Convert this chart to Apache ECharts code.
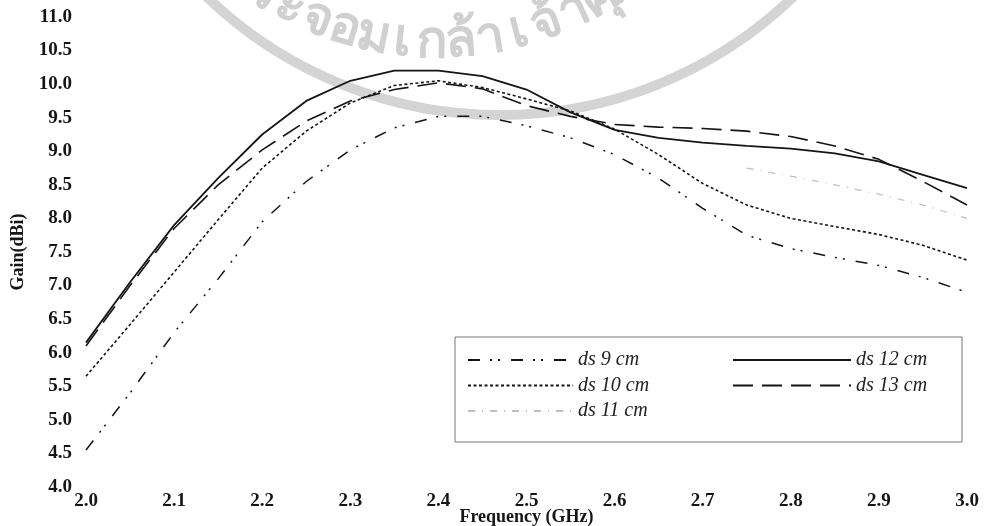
<!DOCTYPE html>
<html>
<head>
<meta charset="utf-8">
<script src="https://cdn.jsdelivr.net/npm/echarts@6/dist/echarts.min.js"></script>
<style>html,body{margin:0;padding:0;background:#fff}#c{width:995px;height:526px}</style>
</head>
<body>
<div id="c"></div>
<script>
// ---- data ----
var freq = [2.0, 2.05, 2.1, 2.15, 2.2, 2.25, 2.3, 2.35, 2.4, 2.45, 2.5, 2.55, 2.6, 2.65, 2.7, 2.75, 2.8, 2.85, 2.9, 2.95, 3.0];
var ds9  = [4.55, 5.40, 6.30, 7.10, 7.95, 8.55, 9.02, 9.35, 9.52, 9.52, 9.38, 9.20, 8.95, 8.60, 8.15, 7.75, 7.55, 7.42, 7.30, 7.12, 6.90];
var ds10 = [5.65, 6.42, 7.20, 7.98, 8.75, 9.30, 9.72, 9.98, 10.05, 9.95, 9.78, 9.60, 9.33, 8.95, 8.52, 8.20, 8.00, 7.88, 7.76, 7.60, 7.38];
var ds11 = [null, null, null, null, null, null, null, null, null, null, null, null, null, null, null, 8.75, 8.63, 8.50, 8.36, 8.20, 8.00];
var ds12 = [6.15, 7.05, 7.90, 8.60, 9.25, 9.75, 10.05, 10.20, 10.20, 10.12, 9.92, 9.58, 9.32, 9.20, 9.13, 9.08, 9.04, 8.97, 8.85, 8.65, 8.45];
var ds13 = [6.10, 7.00, 7.85, 8.50, 9.02, 9.45, 9.75, 9.92, 10.02, 9.93, 9.68, 9.52, 9.40, 9.36, 9.34, 9.30, 9.22, 9.08, 8.88, 8.55, 8.20];
var watermarkText = ['พ','ร','ะ','จ','อ','ม','เ','ก','ล้','า','เ','จ้','า','คุ','ณ','ท','ห','า','ร'];

function pairs(ys){ return freq.map(function(x,i){ return [x, ys[i]]; }); }

var serif = '"Liberation Serif", "Times New Roman", serif';
var ink = '#151515';

var g = [];
g.push({type:'circle', shape:{cx:500, cy:-308, r:423}, style:{fill:'none', stroke:'#d4d4d4', lineWidth:10}, z:0, silent:true});
var tcx = 437, tcy = -282, tr = 350, step = 0.0905, th0 = -0.56 - step;
watermarkText.forEach(function(ch, i){
  var th = th0 + i*step;
  g.push({type:'text', x: tcx + tr*Math.sin(th), y: tcy + tr*Math.cos(th), rotation: th, z:0, silent:true,
    style:{text: ch, fontSize: 52, fontWeight:'bold', fill:'#d0d0d0', align:'center', verticalAlign:'bottom', fontFamily:'"Noto Sans", "DejaVu Sans", sans-serif'}});
});
g.push({type:'rect', shape:{x:455, y:337, width:507, height:105}, style:{fill:'none', stroke:'#777', lineWidth:1}, z:1, silent:true});

var chart = echarts.init(document.getElementById('c'));
var lineCommon = {type:'line', symbol:'none', smooth:false, connectNulls:false};
var legText = {fontFamily:serif, fontStyle:'italic', fontSize:20, color:'#222'};
chart.setOption({
  animation:false,
  backgroundColor:'#fff',
  graphic: g,
  grid:{left:86, right:28, top:17, bottom:39, outerBoundsMode:'none', containLabel:false},
  legend:[
    {data:['ds 9 cm','ds 10 cm','ds 11 cm'], orient:'vertical', left:462, top:345, itemWidth:105, itemHeight:12, itemGap:5.5, itemStyle:{opacity:0}, textStyle:legText},
    {data:['ds 12 cm','ds 13 cm'], orient:'vertical', left:727, top:345, itemWidth:118, itemHeight:12, itemGap:5.5, itemStyle:{opacity:0}, textStyle:legText}
  ],
  xAxis:{type:'value', min:2.0, max:3.0, interval:0.1,
    name:'Frequency (GHz)', nameLocation:'middle', nameGap:21, nameMoveOverlap:false,
    nameTextStyle:{fontFamily:serif, fontWeight:'bold', fontSize:18, color:ink},
    axisLine:{show:false}, axisTick:{show:false}, splitLine:{show:false},
    axisLabel:{margin:5, fontFamily:serif, fontWeight:'bold', fontSize:19, color:ink, formatter:function(v){return v.toFixed(1);}}},
  yAxis:{type:'value', min:4, max:11, interval:0.5,
    name:'Gain(dBi)', nameLocation:'middle', nameGap:59, nameRotate:90, nameMoveOverlap:false,
    nameTextStyle:{fontFamily:serif, fontWeight:'bold', fontSize:18, color:ink},
    axisLine:{show:false}, axisTick:{show:false}, splitLine:{show:false},
    axisLabel:{margin:14, fontFamily:serif, fontWeight:'bold', fontSize:19, color:ink, formatter:function(v){return v.toFixed(1);}}},
  series:[
    Object.assign({}, lineCommon, {name:'ds 9 cm', data:pairs(ds9), z:3, lineStyle:{color:ink, width:1.5, type:[12,10,2,6,2,11]}, itemStyle:{color:ink}}),
    Object.assign({}, lineCommon, {name:'ds 10 cm', data:pairs(ds10), z:3, lineStyle:{color:ink, width:1.6, type:[3,2.5]}, itemStyle:{color:ink}}),
    Object.assign({}, lineCommon, {name:'ds 11 cm', data:pairs(ds11), z:3, lineStyle:{color:'#bdbdbd', width:1.2, type:[7,7,1,7]}, itemStyle:{color:'#bdbdbd'}}),
    Object.assign({}, lineCommon, {name:'ds 12 cm', data:pairs(ds12), z:3, lineStyle:{color:ink, width:1.8, type:'solid'}, itemStyle:{color:ink}}),
    Object.assign({}, lineCommon, {name:'ds 13 cm', data:pairs(ds13), z:3, lineStyle:{color:ink, width:1.6, type:[20,9]}, itemStyle:{color:ink}})
  ]
});
</script>
</body>
</html>
